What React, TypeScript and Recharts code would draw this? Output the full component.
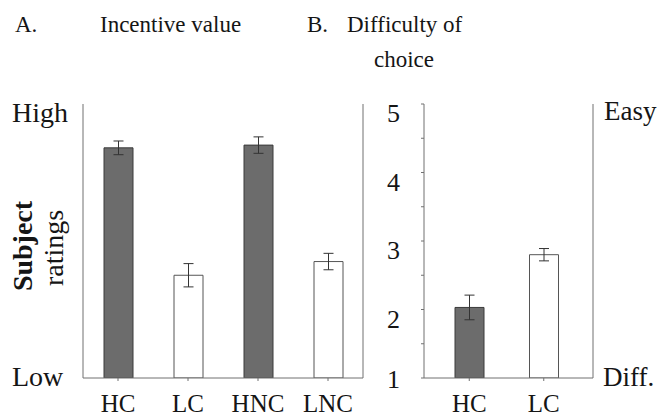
import { BarChart, Bar, XAxis, YAxis, Cell, ErrorBar } from 'recharts';

const incentiveCats = ['HC', 'LC', 'HNC', 'LNC'];
const incentiveMeans = [4.36, 2.5, 4.4, 2.7];
const incentiveErr = [0.1, 0.17, 0.12, 0.12];
const incentiveKind = ['dark', 'light', 'dark', 'light'];

const difficultyCats = ['HC', 'LC'];
const difficultyMeans = [2.03, 2.8];
const difficultyErr = [0.18, 0.09];
const difficultyKind = ['dark', 'light'];

const halfTicks = [1, 1.5, 2, 2.5, 3, 3.5, 4, 4.5, 5];

const SERIF = 'Liberation Serif, Times New Roman, DejaVu Serif, serif';
const AXIS = '#707070';
const INK = '#151515';

const fills: Record<string, { fill: string; stroke: string }> = {
  dark: { fill: '#6c6c6c', stroke: '#3a3a3a' },
  light: { fill: '#ffffff', stroke: '#555555' },
};

const incentiveData = incentiveCats.map((c, i) => ({ name: c, value: incentiveMeans[i], err: incentiveErr[i], kind: incentiveKind[i] }));
const difficultyData = difficultyCats.map((c, i) => ({ name: c, value: difficultyMeans[i], err: difficultyErr[i], kind: difficultyKind[i] }));

const xTick = { fill: INK, fontSize: 25, style: { fontFamily: SERIF } };

// numbers hang just under their tick, except the bottom one
function ScaleTick(props: any) {
  const { x, y, payload } = props;
  const v = payload.value;
  if (!Number.isInteger(v)) return <g />;
  const dy = v === 1 ? 10 : 18;
  return (
    <text x={x} y={y + dy} textAnchor="end" fill={INK} fontSize={26} style={{ fontFamily: SERIF }}>
      {v}
    </text>
  );
}

const txt = { fontFamily: SERIF };

export default function App() {
  return (
    <div style={{ position: 'absolute', left: 0, top: 0, width: 662, height: 418, background: '#fff', fontFamily: SERIF }}>
      <div style={{ position: 'absolute', left: 0, top: 0 }}>
        <BarChart width={400} height={418} data={incentiveData} margin={{ top: 104, left: 73, right: 37, bottom: 10 }}>
          <XAxis dataKey="name" height={30} tick={xTick} tickSize={3} tickMargin={13} stroke={AXIS} interval={0} />
          <YAxis yAxisId="l" width={10} domain={[1, 5]} ticks={halfTicks} tick={false} tickLine={false} stroke={AXIS} allowDataOverflow />
          <YAxis yAxisId="r" orientation="right" mirror width={10} domain={[1, 5]} ticks={halfTicks} tick={false} tickSize={3} stroke={AXIS} allowDataOverflow />
          <Bar yAxisId="l" dataKey="value" barSize={29} isAnimationActive={false}>
            {incentiveData.map((d, i) => (
              <Cell key={i} fill={fills[d.kind].fill} stroke={fills[d.kind].stroke} />
            ))}
            <ErrorBar dataKey="err" width={5} stroke="#333" strokeWidth={1} />
          </Bar>
        </BarChart>
      </div>
      <div style={{ position: 'absolute', left: 330, top: 0 }}>
        <BarChart width={332} height={418} data={difficultyData} margin={{ top: 104, left: 54, right: 59, bottom: 10 }}>
          <XAxis dataKey="name" height={30} tick={xTick} tickSize={3} tickMargin={13} stroke={AXIS} padding={{ left: 8, right: 12 }} interval={0} />
          <YAxis yAxisId="l" width={40} domain={[1, 5]} ticks={halfTicks} tick={<ScaleTick />} tickSize={3} tickMargin={21} stroke={AXIS} allowDataOverflow />
          <YAxis yAxisId="r" orientation="right" width={10} domain={[1, 5]} tick={false} tickLine={false} stroke={AXIS} allowDataOverflow />
          <Bar yAxisId="l" dataKey="value" barSize={29} isAnimationActive={false}>
            {difficultyData.map((d, i) => (
              <Cell key={i} fill={fills[d.kind].fill} stroke={fills[d.kind].stroke} />
            ))}
            <ErrorBar dataKey="err" width={5} stroke="#333" strokeWidth={1} />
          </Bar>
        </BarChart>
      </div>
      <svg width={662} height={418} style={{ position: 'absolute', left: 0, top: 0, pointerEvents: 'none' }} fill={INK}>
        <text x={15} y={32} fontSize={23} style={txt}>A.</text>
        <text x={100} y={32} fontSize={23} style={txt}>Incentive value</text>
        <text x={307} y={32} fontSize={23} style={txt}>B.</text>
        <text x={347} y={32} fontSize={23} style={txt}>Difficulty of</text>
        <text x={404} y={67} fontSize={23} textAnchor="middle" style={txt}>choice</text>
        <text x={12} y={122} fontSize={28} style={txt}>High</text>
        <text x={12} y={386} fontSize={28} style={txt}>Low</text>
        <text x={604} y={120} fontSize={27} style={txt}>Easy</text>
        <text x={603} y={386} fontSize={27} style={txt}>Diff.</text>
        <text transform="translate(32,246) rotate(-90)" fontSize={28} fontWeight="bold" textAnchor="middle" style={txt}>Subject</text>
        <text transform="translate(63,248) rotate(-90)" fontSize={28} textAnchor="middle" style={txt}>ratings</text>
      </svg>
    </div>
  );
}
